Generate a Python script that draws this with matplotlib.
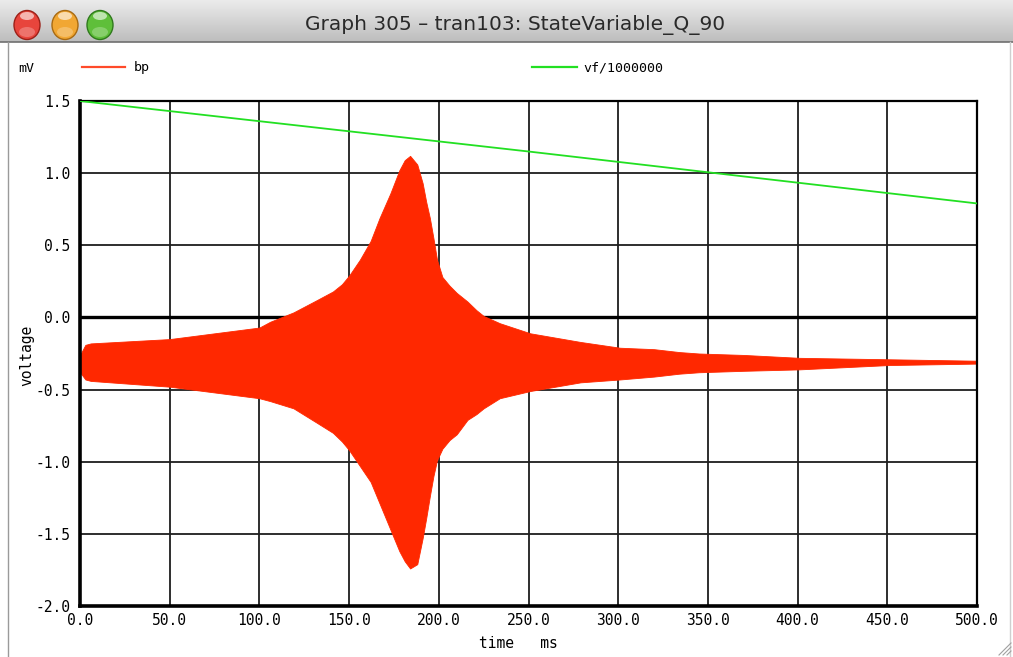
import numpy as np
import matplotlib
matplotlib.use("Agg")
import matplotlib.pyplot as plt
import matplotlib.patches as pat

# --- data (time in ms, voltage in mV) ---
t_env = [0, 3, 6, 50, 100, 106, 119, 132, 141, 146, 150, 156, 162, 167,
         173, 178, 181, 184, 188, 191, 193, 195, 197, 199, 202, 206, 210,
         216, 221, 225, 234, 251, 279, 301, 320, 334, 345, 370, 401, 451,
         500]
bp_upper = [-0.26, -0.19, -0.18, -0.15, -0.07, -0.03, 0.035, 0.12, 0.18,
            0.23, 0.29, 0.40, 0.53, 0.69, 0.86, 1.02, 1.09, 1.12, 1.06,
            0.93, 0.80, 0.69, 0.55, 0.40, 0.28, 0.22, 0.17, 0.11, 0.05,
            0.01, -0.04, -0.11, -0.17, -0.21, -0.22, -0.24, -0.25, -0.26,
            -0.28, -0.29, -0.30]
bp_lower = [-0.38, -0.43, -0.44, -0.48, -0.56, -0.58, -0.63, -0.73, -0.80,
            -0.86, -0.92, -1.03, -1.14, -1.29, -1.47, -1.62, -1.69, -1.74,
            -1.71, -1.53, -1.39, -1.24, -1.10, -0.99, -0.91, -0.85, -0.81,
            -0.71, -0.67, -0.63, -0.56, -0.51, -0.45, -0.43, -0.41, -0.39,
            -0.38, -0.37, -0.36, -0.33, -0.32]

t_vf = [0, 250, 500]
vf = [1.50, 1.15, 0.79]

x_ticks = [0, 50, 100, 150, 200, 250, 300, 350, 400, 450, 500]
y_ticks = [-2.0, -1.5, -1.0, -0.5, 0.0, 0.5, 1.0, 1.5]

W, H = 1013, 657
red = "#ff2800"
green = "#22e022"
mono = "DejaVu Sans Mono"

fig = plt.figure(figsize=(W / 100, H / 100), dpi=100, facecolor="white")

# --- window decoration, drawn in pixel coordinates ---
deco = fig.add_axes([0, 0, 1, 1], zorder=0)
deco.set_xlim(0, W)
deco.set_ylim(H, 0)
deco.axis("off")

grad = np.linspace(0, 1, 64).reshape(-1, 1)
deco.imshow(grad, cmap=matplotlib.colors.LinearSegmentedColormap.from_list(
    "bar", ["#ebebeb", "#bdbdbd"]), extent=[0, W, 42, 0], aspect="auto")
deco.plot([0, W], [42, 42], color="#707070", lw=1.2)
deco.plot([8, 8], [42, H], color="#9a9a9a", lw=1.0)
deco.plot([1010, 1010], [42, H], color="#cfcfcf", lw=1.0)

for cx, fc, ec in [(27, "#e8453c", "#9c2018"), (65, "#f1a733", "#a86a12"),
                   (100, "#5fbf3a", "#2f7a1c")]:
    deco.add_patch(pat.Ellipse((cx, 25), 26, 29, facecolor=fc,
                               edgecolor=ec, lw=1.0))
    deco.add_patch(pat.Ellipse((cx, 32), 16, 10, facecolor="white",
                               edgecolor="none", alpha=0.25))
    deco.add_patch(pat.Ellipse((cx, 16), 14, 8, facecolor="white",
                               edgecolor="none", alpha=0.6))

deco.text(515, 25, "Graph 305 \u2013 tran103: StateVariable_Q_90",
          ha="center", va="center", fontsize=14.5, color="#2a2a2a",
          family="DejaVu Sans")

# legend row
deco.text(18, 68, "mV", ha="left", va="center", fontsize=9.5, family=mono)
deco.plot([82, 125], [67, 67], color="#ff4a2a", lw=1.6)
deco.text(134, 68, "bp", ha="left", va="center", fontsize=9.5, family=mono)
deco.plot([532, 577], [67, 67], color=green, lw=1.6)
deco.text(583, 68, "vf/1000000", ha="left", va="center", fontsize=9.5,
          family=mono)

deco.text(27, 355, "voltage", ha="center", va="center", rotation=90,
          fontsize=10.5, family=mono)
deco.text(518, 643, "time   ms", ha="center", va="center", fontsize=10.5,
          family=mono)

# resize grip
for d in (4, 8, 12):
    deco.plot([W - 2 - d, W - 2], [H - 2, H - 2 - d], color="#a0a0a0",
              lw=0.8)

# --- the plot itself ---
left, right, top, bottom = 80, 977, 101, 606
ax = fig.add_axes([left / W, 1 - bottom / H, (right - left) / W,
                   (bottom - top) / H], zorder=1)
ax.set_facecolor("white")
ax.set_xlim(0, 500)
ax.set_ylim(-2.0, 1.5)

for xt in x_ticks[1:-1]:
    ax.axvline(xt, color="#1e1e1e", lw=1.3, zorder=1)
for yt in y_ticks[1:-1]:
    ax.axhline(yt, color="#1e1e1e", lw=1.3, zorder=1)
ax.axhline(0.0, color="black", lw=2.4, zorder=1)

ax.fill_between(t_env, bp_lower, bp_upper, color=red, lw=0.6,
                edgecolor=red, zorder=2)
ax.plot(t_vf, vf, color=green, lw=1.3, zorder=3)

for side in ("left", "bottom"):
    ax.spines[side].set_linewidth(2.6)
for side in ("top", "right"):
    ax.spines[side].set_linewidth(1.6)
for s in ax.spines.values():
    s.set_color("black")

ax.set_xticks(x_ticks)
ax.set_yticks(y_ticks)
ax.set_xticklabels(["{:.1f}".format(v) for v in x_ticks], family=mono,
                   fontsize=10.5)
ax.set_yticklabels(["{:.1f}".format(v) for v in y_ticks], family=mono,
                   fontsize=10.5)
ax.tick_params(length=0, pad=7)
ax.tick_params(axis="x", pad=5)

fig.savefig("out.png", dpi=100, facecolor="white")
